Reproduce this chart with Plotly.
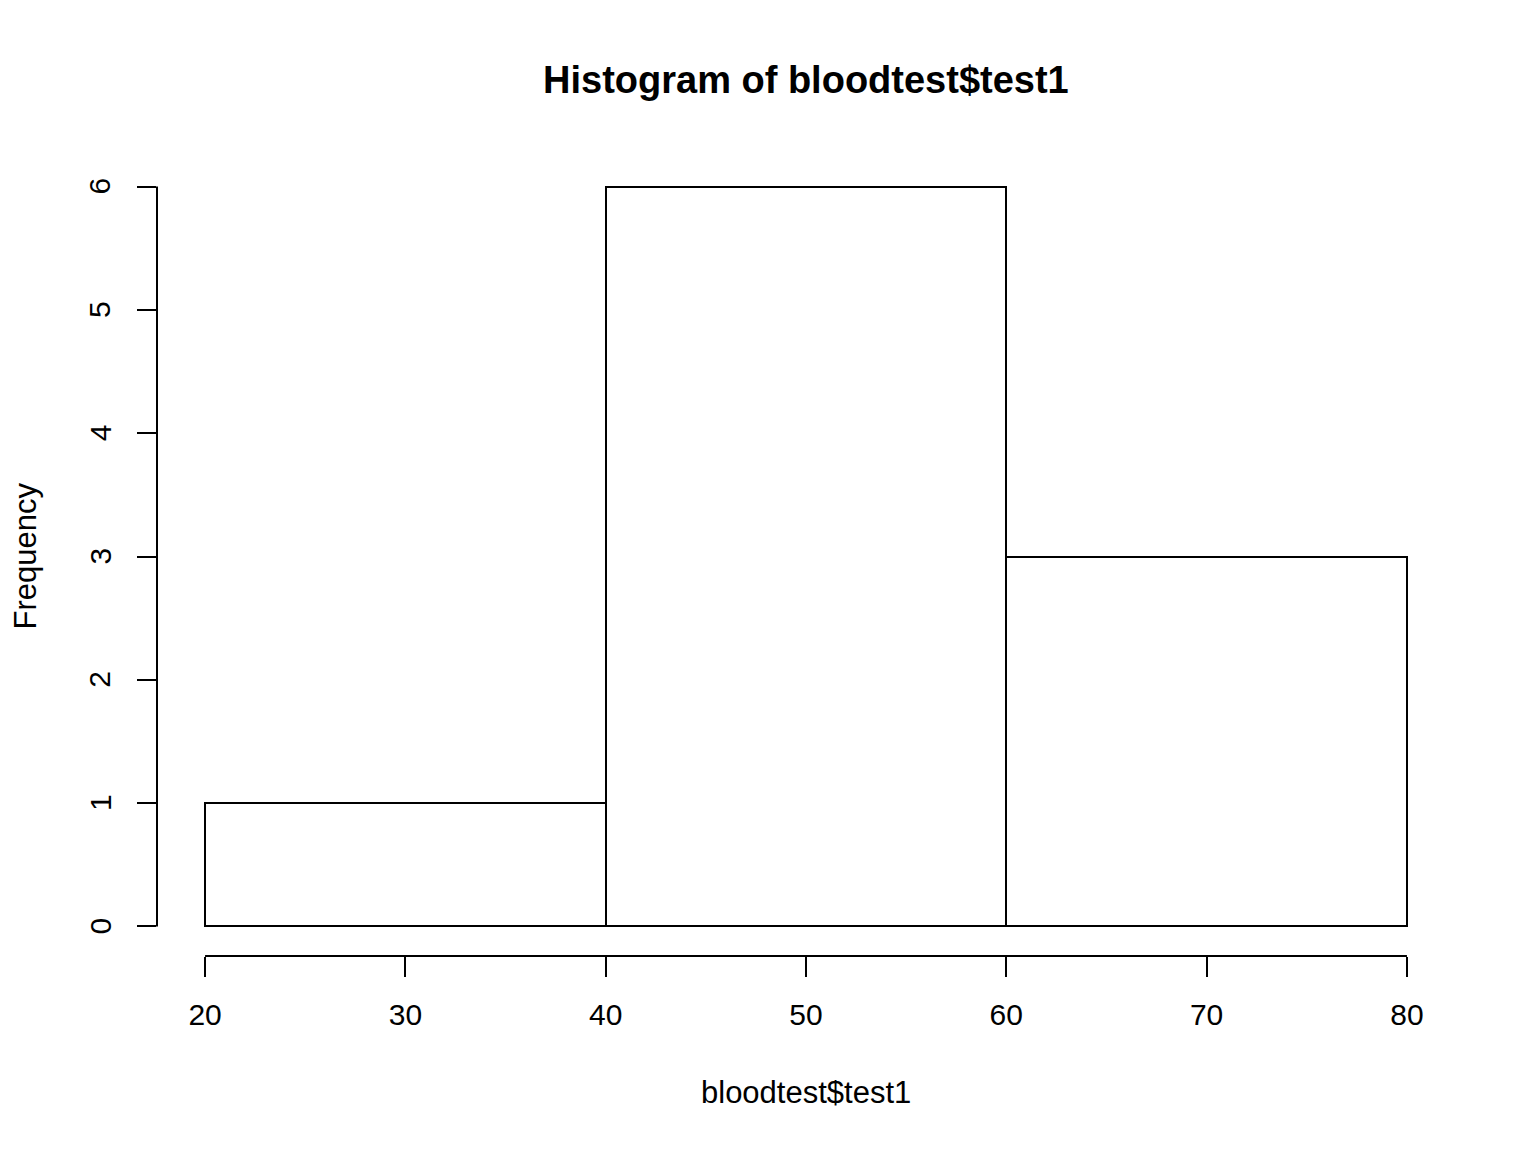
import plotly.graph_objects as go

bin_edges = [20, 40, 60, 80]
counts = [1, 6, 3]
x_ticks = [20, 30, 40, 50, 60, 70, 80]
y_ticks = [0, 1, 2, 3, 4, 5, 6]

centers = [(a + b) / 2 for a, b in zip(bin_edges[:-1], bin_edges[1:])]
widths = [b - a for a, b in zip(bin_edges[:-1], bin_edges[1:])]

FONT = "Liberation Sans, Arial, sans-serif"
LW = 2

fig = go.Figure(go.Bar(
    x=centers, y=counts, width=widths,
    marker=dict(color="white", line=dict(color="black", width=LW)),
    hoverinfo="skip",
))

xpad = (max(x_ticks) - min(x_ticks)) * 0.04
ypad = (max(y_ticks) - min(y_ticks)) * 0.04

ytick_annotations = [
    dict(text=str(v), xref="paper", yref="y", x=0, y=v, xshift=-57,
         showarrow=False, textangle=-90, font=dict(size=30),
         xanchor="center", yanchor="middle")
    for v in y_ticks
]

fig.update_layout(
    width=1536, height=1152,
    margin=dict(l=149, r=89, t=149, b=204),
    plot_bgcolor="white", paper_bgcolor="white",
    showlegend=False,
    font=dict(family=FONT, size=30, color="black"),
    bargap=0,
    xaxis=dict(range=[min(x_ticks) - xpad, max(x_ticks) + xpad], tickvals=x_ticks,
               ticks="outside", ticklen=20, tickwidth=LW, tickcolor="black",
               showgrid=False, zeroline=False, showline=False,
               ticklabelstandoff=12, tickfont=dict(size=30)),
    yaxis=dict(range=[min(y_ticks) - ypad, max(y_ticks) + ypad], tickvals=y_ticks,
               ticks="outside", ticklen=19, tickwidth=LW, tickcolor="black",
               showgrid=False, zeroline=False, showline=False,
               showticklabels=False),
    shapes=[
        dict(type="line", xref="x", yref="paper", x0=min(x_ticks), x1=max(x_ticks), y0=0, y1=0,
             line=dict(color="black", width=LW)),
        dict(type="line", xref="paper", yref="y", x0=0, x1=0, y0=min(y_ticks), y1=max(y_ticks),
             line=dict(color="black", width=LW)),
    ],
    annotations=[
        dict(text="<b>Histogram of bloodtest$test1</b>", xref="paper", yref="paper", x=0.5, y=1,
             yshift=77, showarrow=False, font=dict(size=38), xanchor="center", yanchor="middle"),
        dict(text="bloodtest$test1", xref="paper", yref="paper", x=0.5, y=0,
             yshift=-136, showarrow=False, font=dict(size=31), xanchor="center", yanchor="middle"),
        dict(text="Frequency", xref="paper", yref="paper", x=0, y=0.5,
             xshift=-132, showarrow=False, font=dict(size=31), textangle=-90,
             xanchor="center", yanchor="middle"),
    ] + ytick_annotations,
)

fig.write_html("out.html")
